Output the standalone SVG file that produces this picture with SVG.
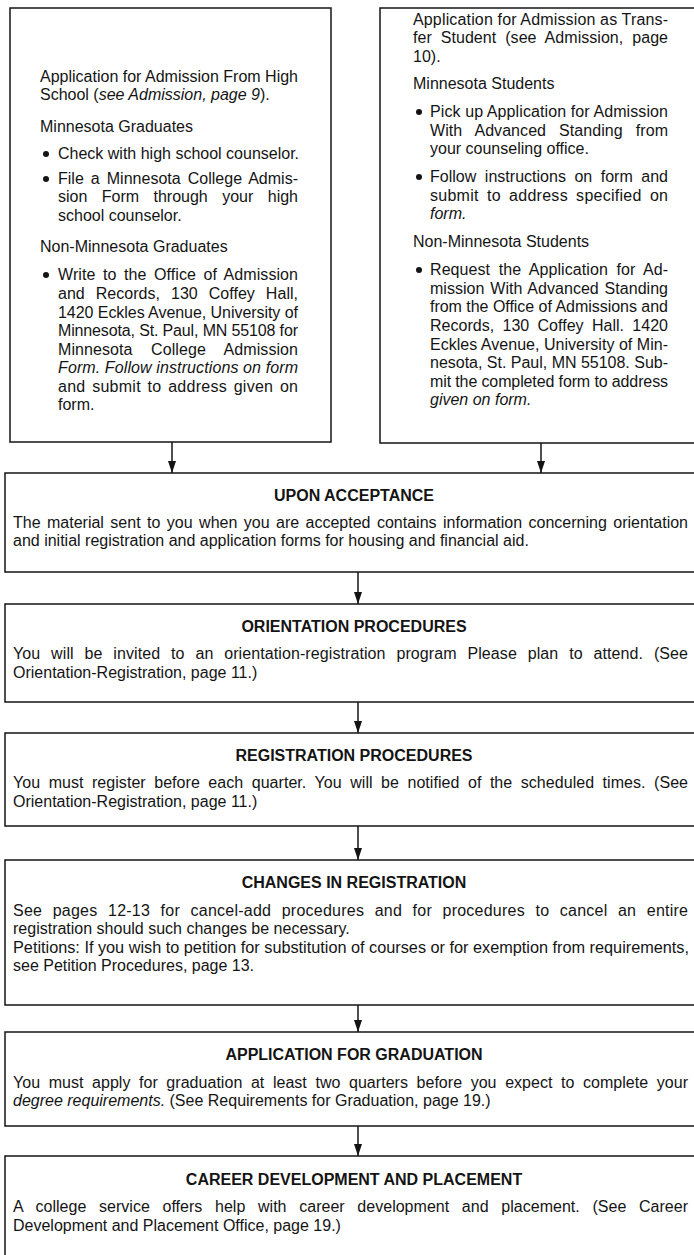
<svg xmlns="http://www.w3.org/2000/svg" width="694" height="1255" viewBox="0 0 694 1255">
<style>
text{font-family:"Liberation Sans",Arial,Helvetica,sans-serif;font-size:16px;fill:#141414}
.t{font-weight:bold;text-anchor:middle}
.i{font-style:italic}
.box{fill:none;stroke:#141414;stroke-width:1.5}
.con{stroke:#141414;stroke-width:1.5;fill:none}
.dot{fill:#141414}
</style>
<defs>
<marker id="ah" viewBox="0 0 12 8" refX="12" refY="4" markerWidth="12" markerHeight="8" markerUnits="userSpaceOnUse" orient="auto">
<path d="M0,0 L12,4 L0,8 z" fill="#141414"/>
</marker>
</defs>
<rect width="694" height="1255" fill="#fff"/>

<g id="connectors">
<line class="con" x1="172" y1="442" x2="172" y2="473" marker-end="url(#ah)"/>
<line class="con" x1="541" y1="443" x2="541" y2="473" marker-end="url(#ah)"/>
<line class="con" x1="358" y1="572" x2="358" y2="604" marker-end="url(#ah)"/>
<line class="con" x1="358" y1="702" x2="358" y2="733" marker-end="url(#ah)"/>
<line class="con" x1="358" y1="826" x2="358" y2="860" marker-end="url(#ah)"/>
<line class="con" x1="358" y1="1005" x2="358" y2="1032" marker-end="url(#ah)"/>
<line class="con" x1="358" y1="1126" x2="358" y2="1156" marker-end="url(#ah)"/>
</g>

<g id="highschool">
<rect class="box" x="10" y="8" width="321" height="434"/>
<text x="40" y="82" textLength="258" lengthAdjust="spacing">Application for Admission From High</text>
<text x="40" y="100">School (<tspan class="i">see Admission, page 9</tspan>).</text>
<text x="40" y="132">Minnesota Graduates</text>
<circle class="dot" cx="46" cy="154" r="3"/>
<text x="58" y="159">Check with high school counselor.</text>
<circle class="dot" cx="46" cy="179" r="3"/>
<text x="58" y="184" word-spacing="2.5" textLength="240" lengthAdjust="spacing">File a Minnesota College Admis-</text>
<text x="58" y="202" word-spacing="10" textLength="240" lengthAdjust="spacing">sion Form through your high</text>
<text x="58" y="221">school counselor.</text>
<text x="40" y="252">Non-Minnesota Graduates</text>
<circle class="dot" cx="46" cy="275" r="3"/>
<text x="58" y="280" word-spacing="3" textLength="240" lengthAdjust="spacing">Write to the Office of Admission</text>
<text x="58" y="299" word-spacing="6.5" textLength="240" lengthAdjust="spacing">and Records, 130 Coffey Hall,</text>
<text x="58" y="318" textLength="240" lengthAdjust="spacing">1420 Eckles Avenue, University of</text>
<text x="58" y="336" textLength="240" lengthAdjust="spacing">Minnesota, St. Paul, MN 55108 for</text>
<text x="58" y="355" word-spacing="14" textLength="240" lengthAdjust="spacing">Minnesota College Admission</text>
<text class="i" x="58" y="373" textLength="240" lengthAdjust="spacing">Form. Follow instructions on form</text>
<text x="58" y="392" word-spacing="2" textLength="240" lengthAdjust="spacing">and submit to address given on</text>
<text x="58" y="410">form.</text>
</g>

<g id="transfer">
<path class="box" d="M694,8 H380 V443 H694"/>
<text x="413" y="25" textLength="255" lengthAdjust="spacing">Application for Admission as Trans-</text>
<text x="413" y="43" word-spacing="4.5" textLength="255" lengthAdjust="spacing">fer Student (see Admission, page</text>
<text x="413" y="62">10).</text>
<text x="413" y="89">Minnesota Students</text>
<circle class="dot" cx="419" cy="112" r="3"/>
<text x="430" y="117" textLength="238" lengthAdjust="spacing">Pick up Application for Admission</text>
<text x="430" y="136" word-spacing="8.5" textLength="238" lengthAdjust="spacing">With Advanced Standing from</text>
<text x="430" y="154">your counseling office.</text>
<circle class="dot" cx="419" cy="177" r="3"/>
<text x="430" y="182" word-spacing="4" textLength="238" lengthAdjust="spacing">Follow instructions on form and</text>
<text x="430" y="201" word-spacing="3.5" textLength="238" lengthAdjust="spacing">submit to address specified on</text>
<text class="i" x="430" y="219">form.</text>
<text x="413" y="247">Non-Minnesota Students</text>
<circle class="dot" cx="419" cy="270" r="3"/>
<text x="430" y="275" word-spacing="4" textLength="238" lengthAdjust="spacing">Request the Application for Ad-</text>
<text x="430" y="294" word-spacing="1.3" textLength="238" lengthAdjust="spacing">mission With Advanced Standing</text>
<text x="430" y="312" textLength="238" lengthAdjust="spacing">from the Office of Admissions and</text>
<text x="430" y="331" word-spacing="3.8" textLength="238" lengthAdjust="spacing">Records, 130 Coffey Hall. 1420</text>
<text x="430" y="350" textLength="238" lengthAdjust="spacing">Eckles Avenue, University of Min-</text>
<text x="430" y="368" textLength="238" lengthAdjust="spacing">nesota, St. Paul, MN 55108. Sub-</text>
<text x="430" y="387" textLength="238" lengthAdjust="spacing">mit the completed form to address</text>
<text class="i" x="430" y="405">given on form.</text>
</g>

<g id="acceptance">
<path class="box" d="M694,473 H5 V572 H694"/>
<text class="t" x="354" y="501">UPON ACCEPTANCE</text>
<text x="13" y="528" word-spacing="2" textLength="675" lengthAdjust="spacing">The material sent to you when you are accepted contains information concerning orientation</text>
<text x="13" y="546">and initial registration and application forms for housing and financial aid.</text>
</g>

<g id="orientation">
<path class="box" d="M694,604 H5 V702 H694"/>
<text class="t" x="354" y="632">ORIENTATION PROCEDURES</text>
<text x="13" y="659" word-spacing="6.3" textLength="675" lengthAdjust="spacing">You will be invited to an orientation-registration program  Please plan to attend. (See</text>
<text x="13" y="678">Orientation-Registration, page 11.)</text>
</g>

<g id="registration">
<path class="box" d="M694,733 H5 V826 H694"/>
<text class="t" x="354" y="761">REGISTRATION PROCEDURES</text>
<text x="13" y="788" word-spacing="4" textLength="675" lengthAdjust="spacing">You must register before each quarter. You will be notified of the scheduled times. (See</text>
<text x="13" y="807">Orientation-Registration, page 11.)</text>
</g>

<g id="changes">
<path class="box" d="M694,860 H5 V1005 H694"/>
<text class="t" x="354" y="888">CHANGES IN REGISTRATION</text>
<text x="13" y="916" word-spacing="5.8" textLength="675" lengthAdjust="spacing">See pages 12-13 for cancel-add procedures and for procedures to cancel an entire</text>
<text x="13" y="934">registration should such changes be necessary.</text>
<text x="13" y="953" textLength="676" lengthAdjust="spacingAndGlyphs">Petitions: If you wish to petition for substitution of courses or for exemption from requirements,</text>
<text x="13" y="971">see Petition Procedures, page 13.</text>
</g>

<g id="graduation">
<path class="box" d="M694,1032 H5 V1126 H694"/>
<text class="t" x="354" y="1060">APPLICATION FOR GRADUATION</text>
<text x="13" y="1088" word-spacing="4.1" textLength="675" lengthAdjust="spacing">You must apply for graduation at least two quarters before you expect to complete your</text>
<text x="13" y="1106"><tspan class="i">degree requirements.</tspan> (See Requirements for Graduation, page 19.)</text>
</g>

<g id="career">
<path class="box" d="M694,1156 H5 V1255"/>
<text class="t" x="354" y="1185">CAREER DEVELOPMENT AND PLACEMENT</text>
<text x="13" y="1212" word-spacing="8.2" textLength="675" lengthAdjust="spacing">A college service offers help with career development and placement. (See Career</text>
<text x="13" y="1231">Development and Placement Office, page 19.)</text>
</g>
</svg>
